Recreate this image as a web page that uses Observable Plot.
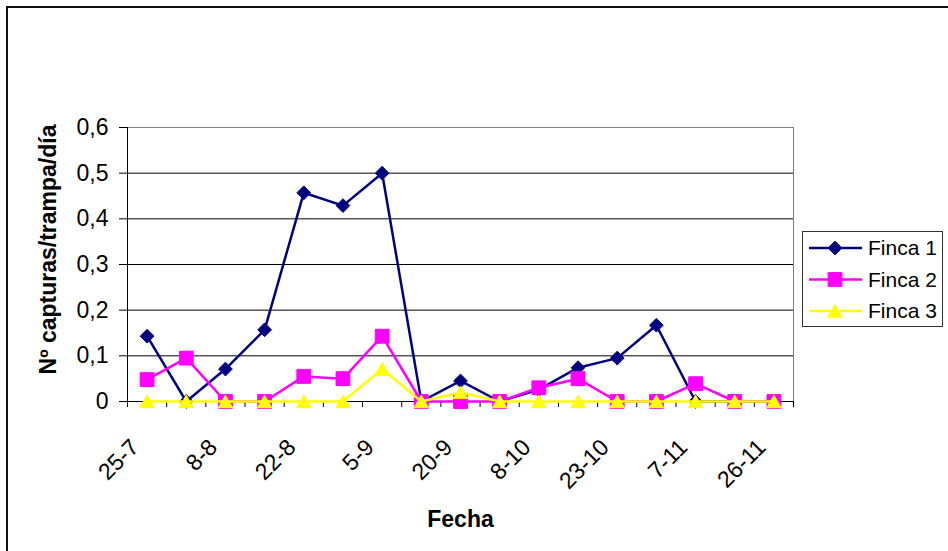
<!DOCTYPE html>
<html>
<head>
<meta charset="utf-8">
<script src="https://cdn.jsdelivr.net/npm/d3@7"></script>
<script src="https://cdn.jsdelivr.net/npm/@observablehq/plot@0.6"></script>
<style>
  html, body { margin: 0; padding: 0; background: #fff; overflow: hidden; }
  #wrap { position: relative; width: 948px; height: 551px; overflow: hidden; background: #fff; }
  #border { position: absolute; left: 6px; top: 6px; width: 980px; height: 580px; border: 2px solid #111; box-sizing: border-box; }
  #chart { position: absolute; left: 0; top: 0; }
  #legend { position: absolute; left: 802px; top: 231px; }
</style>
</head>
<body>
<div id="wrap">
  <div id="border"></div>
  <div id="chart"></div>
  <div id="legend"></div>
</div>
<script>
// Categories (dates of sampling); only every other one is labelled on the axis
const fechas = ["25-7", "1-8", "8-8", "15-8", "22-8", "29-8", "5-9", "12-9", "20-9",
                "29-9", "8-10", "15-10", "23-10", "30-10", "7-11", "15-11", "26-11"];
const etiquetasX = ["25-7", "8-8", "22-8", "5-9", "20-9", "8-10", "23-10", "7-11", "26-11"];

// Series values (Nº capturas/trampa/día)
const finca1 = [0.143, 0, 0.071, 0.157, 0.457, 0.429, 0.5, 0, 0.045, 0, 0.026, 0.074, 0.095, 0.167, 0, 0, 0];
const finca2 = [0.048, 0.095, 0, 0, 0.055, 0.05, 0.143, 0, 0, 0, 0.03, 0.05, 0, 0, 0.039, 0, 0];
const finca3 = [0, 0, 0, 0, 0, 0, 0.071, 0, 0.02, 0, 0, 0, 0, 0, 0, 0, 0];

const nombres = ["Finca 1", "Finca 2", "Finca 3"];
const ticksY = [0, 0.1, 0.2, 0.3, 0.4, 0.5, 0.6];

const tituloY = "Nº capturas/trampa/día";
const tituloX = "Fecha";

const filas = (vals) => vals.map((v, i) => ({ i, fecha: fechas[i], v }));
const idx = (f) => fechas.indexOf(f);
const limites = fechas.map((_, i) => i - 0.5).concat([fechas.length - 0.5]);
const fmtY = (d) => d === 0 ? "0" : d.toFixed(1).replace(".", ",");

const font = "'Liberation Sans', Arial, sans-serif";

const estilos = [
  { color: "#000080", symbol: "diamond2", r: 6.2, dy: 0 },
  { color: "#FF00FF", symbol: "square", r: 7.8, dy: 0 },
  { color: "#FFFF00", symbol: "triangle", r: 5.4, dy: 2 }
];
const series = [finca1, finca2, finca3];

const marcasSeries = series.flatMap((vals, k) => [
  Plot.line(filas(vals), { x: "i", y: "v", stroke: estilos[k].color, strokeWidth: 2.5 }),
  Plot.dot(filas(vals), { x: "i", y: "v", symbol: estilos[k].symbol, r: estilos[k].r,
    fill: estilos[k].color, stroke: estilos[k].color, strokeWidth: 1, dy: estilos[k].dy })
]);

const chart = Plot.plot({
  width: 948,
  height: 551,
  marginLeft: 127,
  marginRight: 155,
  marginTop: 127,
  marginBottom: 150,
  style: { fontFamily: font, fontSize: "23px", color: "#000", background: "transparent", overflow: "visible" },
  x: { domain: [-0.5, fechas.length - 0.5], axis: null },
  y: { domain: [0, 0.6], axis: null },
  marks: [
    Plot.gridY(ticksY, { stroke: "#000", strokeOpacity: 1, strokeWidth: 1 }),
    Plot.frame({ stroke: "#808080" }),
    Plot.ruleY([0], { stroke: "#000" }),
    Plot.ruleX([-0.5], { stroke: "#000" }),
    Plot.axisY(ticksY, { tickFormat: fmtY, tickSize: 8, tickPadding: 11, fontSize: 23, stroke: "#000", label: null }),
    Plot.axisX(limites, { tickFormat: () => "", tickSize: 6, stroke: "#000", label: null }),
    Plot.axisX(etiquetasX.map(idx), { tickFormat: (i) => fechas[i], tickSize: 0, tickRotate: -45,
      tickPadding: 42, dx: -12, fontSize: 23, label: null }),
    Plot.text([tituloX], { frameAnchor: "bottom", lineAnchor: "bottom", dy: 125, fontWeight: "bold", fontSize: 23 }),
    Plot.text([tituloY], { frameAnchor: "left", textAnchor: "middle", lineAnchor: "bottom", rotate: -90, dx: -72, dy: -15, fontWeight: "bold", fontSize: 23 }),
    ...marcasSeries
  ]
});
document.getElementById("chart").appendChild(chart);

// Legend
const lw = 141, lh = 96;
const leg = d3.select("#legend").append("svg").attr("width", lw).attr("height", lh)
  .style("font-family", font).style("font-size", "21px");
leg.append("rect").attr("x", 0.5).attr("y", 0.5).attr("width", lw - 1).attr("height", lh - 1)
  .attr("fill", "#fff").attr("stroke", "#333");
const symMap = { diamond2: d3.symbolDiamond2, square: d3.symbolSquare, triangle: d3.symbolTriangle };
nombres.forEach((n, k) => {
  const y = 17 + k * 31.5;
  const g = leg.append("g");
  g.append("line").attr("x1", 7).attr("x2", 60).attr("y1", y).attr("y2", y)
    .attr("stroke", estilos[k].color).attr("stroke-width", 2.5);
  g.append("path").attr("d", d3.symbol(symMap[estilos[k].symbol], estilos[k].r * estilos[k].r * Math.PI)())
    .attr("transform", `translate(33,${y + estilos[k].dy})`)
    .attr("fill", estilos[k].color).attr("stroke", estilos[k].color);
  g.append("text").attr("x", 66).attr("y", y).attr("dy", "0.35em").attr("fill", "#000").text(n);
});
</script>
</body>
</html>
